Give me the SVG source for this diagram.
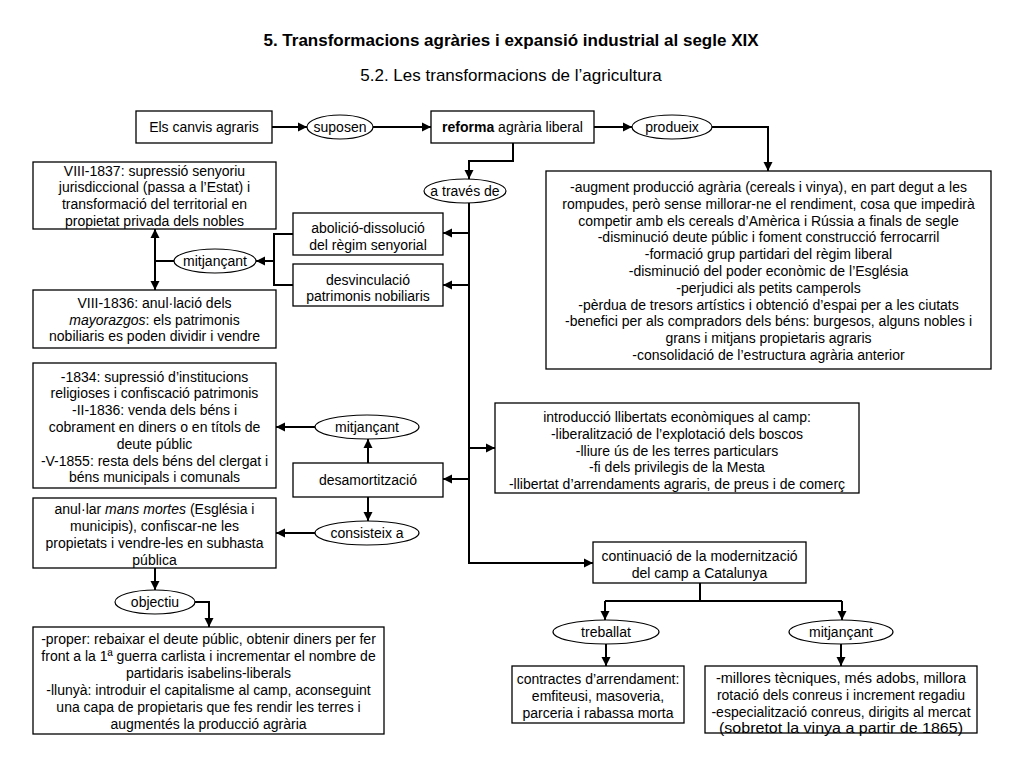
<svg xmlns="http://www.w3.org/2000/svg" width="1024" height="768" viewBox="0 0 1024 768">
<defs>
<marker id="arr" markerUnits="userSpaceOnUse" markerWidth="10" markerHeight="10" refX="9" refY="5" orient="auto">
<path d="M0,0.5 L9,5 L0,9.5 z" fill="#000"/>
</marker>
<style>
text{font-family:"Liberation Sans",Arial,sans-serif;font-size:14px;fill:#000;text-anchor:middle}
.box{fill:#fff;stroke:#000;stroke-width:1.3}
.ell{fill:#fff;stroke:#000;stroke-width:1.2}
.con{fill:none;stroke:#000;stroke-width:2}
.arw{marker-end:url(#arr)}
.t1{font-size:17px;font-weight:bold}
.t2{font-size:17px}
</style>
</defs>
<rect width="1024" height="768" fill="#fff"/>
<text class="t1" x="511" y="46">5. Transformacions agràries i expansió industrial al segle XIX</text>
<text class="t2" x="511" y="81">5.2. Les transformacions de l’agricultura</text>

<g id="connectors">
<path class="con arw" d="M272,127 H307"/>
<path class="con arw" d="M373,127 H431"/>
<path class="con arw" d="M594,127 H632"/>
<path class="con arw" d="M712,127 H768 V171"/>
<path class="con arw" d="M513,143 V161 H469 V179"/>
<path class="con arw" d="M469,203 V563 H593"/>
<path class="con arw" d="M469,233 H443"/>
<path class="con arw" d="M469,285 H443"/>
<path class="con arw" d="M469,448 H495"/>
<path class="con arw" d="M469,479 H443"/>
<path class="con" d="M293,234 H274 V285 H293"/>
<path class="con arw" d="M274,261 H256"/>
<path class="con" d="M174,261 H155"/>
<path class="con arw" d="M155,261 V229"/>
<path class="con arw" d="M155,261 V290"/>
<path class="con arw" d="M368,463 V439"/>
<path class="con arw" d="M315,427 H276"/>
<path class="con arw" d="M368,497 V521"/>
<path class="con arw" d="M315,533 H276"/>
<path class="con arw" d="M155,568 V590"/>
<path class="con arw" d="M194,602 H209 V627"/>
<path class="con" d="M700,583 V601"/>
<path class="con" d="M605,601 H842"/>
<path class="con arw" d="M605,601 V620"/>
<path class="con arw" d="M842,601 V620"/>
<path class="con arw" d="M606,644 V666"/>
<path class="con arw" d="M841,644 V666"/>
</g>

<g id="canvis">
<rect class="box" x="136" y="111" width="136" height="32"/>
<text x="204" y="132">Els canvis agraris</text>
</g>
<g id="suposen">
<ellipse class="ell" cx="340" cy="127" rx="33" ry="12"/>
<text x="340" y="132">suposen</text>
</g>
<g id="reforma">
<rect class="box" x="431" y="111" width="163" height="32"/>
<text x="512.5" y="132"><tspan font-weight="bold">reforma</tspan> agrària liberal</text>
</g>
<g id="produeix">
<ellipse class="ell" cx="672" cy="127" rx="40" ry="12"/>
<text x="672" y="132">produeix</text>
</g>
<g id="efectes">
<rect class="box" x="546" y="171" width="445" height="198"/>
<text x="768.5" y="192">-augment producció agrària (cereals i vinya), en part degut a les</text>
<text x="768.5" y="208.8">rompudes, però sense millorar-ne el rendiment, cosa que impedirà</text>
<text x="768.5" y="225.6">competir amb els cereals d’Amèrica i Rússia a finals de segle</text>
<text x="768.5" y="242.4">-disminució deute públic i foment construcció ferrocarril</text>
<text x="768.5" y="259.2">-formació grup partidari del règim liberal</text>
<text x="768.5" y="276">-disminució del poder econòmic de l’Església</text>
<text x="768.5" y="292.8">-perjudici als petits camperols</text>
<text x="768.5" y="309.6">-pèrdua de tresors artístics i obtenció d’espai per a les ciutats</text>
<text x="768.5" y="326.4">-benefici per als compradors dels béns: burgesos, alguns nobles i</text>
<text x="768.5" y="343.2">grans i mitjans propietaris agraris</text>
<text x="768.5" y="360">-consolidació de l’estructura agrària anterior</text>
</g>
<g id="atraves">
<ellipse class="ell" cx="465" cy="191" rx="41" ry="12"/>
<text x="465" y="196">a través de</text>
</g>
<g id="abolicio">
<rect class="box" x="293" y="213" width="150" height="42"/>
<text x="368" y="233">abolició-dissolució</text>
<text x="368" y="249.5">del règim senyorial</text>
</g>
<g id="desvinculacio">
<rect class="box" x="293" y="264" width="150" height="42"/>
<text x="368" y="285">desvinculació</text>
<text x="368" y="300.5">patrimonis nobiliaris</text>
</g>
<g id="mitjancant1">
<ellipse class="ell" cx="215" cy="261" rx="41" ry="12"/>
<text x="215" y="266">mitjançant</text>
</g>
<g id="viii1837">
<rect class="box" x="33" y="162" width="243" height="67"/>
<text x="154.5" y="175.5">VIII-1837: supressió senyoriu</text>
<text x="154.5" y="192.3">jurisdiccional (passa a l’Estat) i</text>
<text x="154.5" y="209.1">transformació del territorial en</text>
<text x="154.5" y="225.9">propietat privada dels nobles</text>
</g>
<g id="viii1836">
<rect class="box" x="33" y="290" width="243" height="58"/>
<text x="154.5" y="307.7">VIII-1836: anul·lació dels</text>
<text x="154.5" y="324.5"><tspan font-style="italic">mayorazgos</tspan>: els patrimonis</text>
<text x="154.5" y="341.3">nobiliaris es poden dividir i vendre</text>
</g>
<g id="desamortitzacio">
<rect class="box" x="293" y="463" width="150" height="34"/>
<text x="368" y="485">desamortització</text>
</g>
<g id="mitjancant2">
<ellipse class="ell" cx="367" cy="427" rx="52" ry="12"/>
<text x="367" y="432">mitjançant</text>
</g>
<g id="consisteix">
<ellipse class="ell" cx="367" cy="533" rx="52" ry="12"/>
<text x="367" y="538">consisteix a</text>
</g>
<g id="lleis">
<rect class="box" x="33" y="363" width="243" height="125"/>
<text x="154.5" y="381.5">-1834: supressió d’institucions</text>
<text x="154.5" y="398.3">religioses i confiscació patrimonis</text>
<text x="154.5" y="415.1">-II-1836: venda dels béns i</text>
<text x="154.5" y="431.9">cobrament en diners o en títols de</text>
<text x="154.5" y="448.7">deute públic</text>
<text x="154.5" y="465.5">-V-1855: resta dels béns del clergat i</text>
<text x="154.5" y="482.3">béns municipals i comunals</text>
</g>
<g id="mansmortes">
<rect class="box" x="33" y="498" width="243" height="70"/>
<text x="154.5" y="514">anul·lar <tspan font-style="italic">mans mortes</tspan> (Església i</text>
<text x="154.5" y="531">municipis), confiscar-ne les</text>
<text x="154.5" y="548">propietats i vendre-les en subhasta</text>
<text x="154.5" y="565">pública</text>
</g>
<g id="objectiu">
<ellipse class="ell" cx="155" cy="602" rx="40" ry="12"/>
<text x="155" y="607">objectiu</text>
</g>
<g id="objectius">
<rect class="box" x="33" y="627" width="351" height="107"/>
<text x="208.5" y="644">-proper: rebaixar el deute públic, obtenir diners per fer</text>
<text x="208.5" y="661">front a la 1ª guerra carlista i incrementar el nombre de</text>
<text x="208.5" y="678">partidaris isabelins-liberals</text>
<text x="208.5" y="695">-llunyà: introduir el capitalisme al camp, aconseguint</text>
<text x="208.5" y="712">una capa de propietaris que fes rendir les terres i</text>
<text x="208.5" y="729">augmentés la producció agrària</text>
</g>
<g id="llibertats">
<rect class="box" x="495" y="403" width="364" height="90"/>
<text x="677" y="422">introducció llibertats econòmiques al camp:</text>
<text x="677" y="438.8">-liberalització de l’explotació dels boscos</text>
<text x="677" y="455.6">-lliure ús de les terres particulars</text>
<text x="677" y="472.4">-fi dels privilegis de la Mesta</text>
<text x="677" y="489.2">-llibertat d’arrendaments agraris, de preus i de comerç</text>
</g>
<g id="continuacio">
<rect class="box" x="593" y="542" width="213" height="41"/>
<text x="699.5" y="561">continuació de la modernització</text>
<text x="699.5" y="578">del camp a Catalunya</text>
</g>
<g id="treballat">
<ellipse class="ell" cx="606" cy="632" rx="53" ry="12"/>
<text x="606" y="637">treballat</text>
</g>
<g id="mitjancant3">
<ellipse class="ell" cx="841" cy="632" rx="52" ry="12"/>
<text x="841" y="637">mitjançant</text>
</g>
<g id="contractes">
<rect class="box" x="512" y="666" width="172" height="57"/>
<text x="598" y="684">contractes d’arrendament:</text>
<text x="598" y="701">emfiteusi, masoveria,</text>
<text x="598" y="718">parceria i rabassa morta</text>
</g>
<g id="millores">
<rect class="box" x="705" y="666" width="272" height="67"/>
<text x="841" y="683" textLength="250" lengthAdjust="spacingAndGlyphs">-millores tècniques, més adobs, millora</text>
<text x="841" y="699.8">rotació dels conreus i increment regadiu</text>
<text x="841" y="716.6">-especialització conreus, dirigits al mercat</text>
<text x="841" y="733.4" textLength="244" lengthAdjust="spacingAndGlyphs">(sobretot la vinya a partir de 1865)</text>
</g>
</svg>
